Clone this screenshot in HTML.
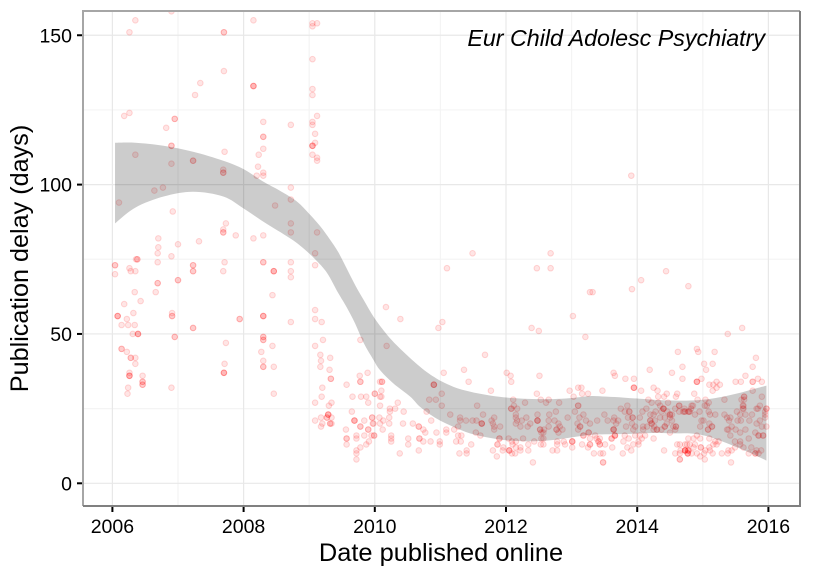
<!DOCTYPE html>
<html lang="en">
<head>
<meta charset="utf-8">
<title>Publication delay: Eur Child Adolesc Psychiatry</title>
<style>
html,body{margin:0;padding:0;background:#fff;width:825px;height:570px;overflow:hidden}
svg{display:block;font-family:"Liberation Sans",Arial,sans-serif}
</style>
</head>
<body>
<svg id="chart" xmlns="http://www.w3.org/2000/svg" width="825" height="570" viewBox="0 0 825 570">
  <defs><clipPath id="panel-clip"><rect x="83" y="11" width="717" height="495"/></clipPath></defs>
  <rect x="0" y="0" width="825" height="570" fill="#fff"/>
  <g id="grid"></g>
  <g id="points" clip-path="url(#panel-clip)"></g>
  <path id="ribbon" fill="#000" fill-opacity="0.2" clip-path="url(#panel-clip)"/>
  <path d="M83 506V11H800" fill="none" stroke="#a6a6a6" stroke-width="2"/>
  <path d="M83 506H800V11" fill="none" stroke="#808080" stroke-width="2"/>
  <g id="axes"></g>
  <text x="765" y="46" text-anchor="end" font-size="23.25" font-style="italic" fill="#000">Eur Child Adolesc Psychiatry</text>
  <text x="441" y="561" text-anchor="middle" font-size="25.4" fill="#000">Date published online</text>
  <text transform="translate(28,258.5) rotate(-90)" text-anchor="middle" font-size="25.2" fill="#000">Publication delay (days)</text>
</svg>
<script>
const xTickLabels = [2006, 2008, 2010, 2012, 2014, 2016];
const yTickLabels = [0, 50, 100, 150];
const xMinorTicks = [2007, 2009, 2011, 2013, 2015];
const yMinorTicks = [25, 75, 125];

const upperDates = [2006.04,2006.35,2006.78,2007.23,2007.69,2008.00,2008.30,2008.55,2008.81,2009.01,2009.17,2009.32,2009.44,2009.57,2009.70,2009.83,2009.98,2010.13,2010.33,2010.69,2010.94,2011.20,2011.45,2011.70,2011.96,2012.21,2012.47,2012.72,2012.98,2013.28,2013.53,2013.79,2014.04,2014.30,2014.55,2014.80,2015.06,2015.31,2015.57,2015.82,2015.97];
const upperValues = [114,114,113,111,108,105.2,101,98,94.4,90,86,81.5,77.5,72,66.4,61.4,55.8,51.3,46.3,39,35.1,32.3,30.7,29.6,28.8,28.4,28.2,28.2,28.5,29.2,29,28.7,28.3,27.9,27.7,27.7,28.1,29,30.3,31.8,32.7];
const lowerDates = [2006.04,2006.35,2006.78,2007.23,2007.69,2008.00,2008.30,2008.71,2008.91,2009.09,2009.27,2009.44,2009.57,2009.70,2009.83,2009.98,2010.08,2010.28,2010.54,2010.69,2010.94,2011.20,2011.45,2011.70,2011.96,2012.21,2012.47,2012.72,2012.98,2013.28,2013.53,2013.79,2014.04,2014.30,2014.55,2014.80,2015.06,2015.31,2015.57,2015.82,2015.97];
const lowerValues = [87,92.3,96,97.6,96,92,87.6,82,78.7,75,70.5,63.8,59,53.5,47,41.3,37.9,33.5,29,25.6,21.7,18.9,16.7,15.4,14.5,14.1,14.1,14.5,15.3,16.2,16.4,16.5,16.7,16.9,16.7,16.7,15.8,13.9,11.6,9.2,7.6];

const publishedDates = [
2006.35,2006.90,2006.26,2007.70,2007.70,2008.15,2009.05,2009.05,2009.12,2009.05,
2007.70,2007.34,2008.15,2008.15,2008.15,2007.26,2009.05,2009.05,2006.18,2006.26,
2006.95,2006.95,2006.82,2008.30,2008.72,2008.30,2008.30,2008.30,2008.23,2009.05,
2009.05,2009.12,2009.09,2009.05,2009.05,2009.05,2009.09,2009.05,2009.12,2009.12,
2006.90,2006.90,2006.90,2006.35,2007.23,2007.23,2007.71,2007.69,2007.69,2007.69,
2008.22,2008.30,2008.30,2008.20,2008.72,2008.72,2008.48,2008.72,2008.72,2009.12,
2006.77,2006.64,2006.10,2006.92,2007.73,2007.69,2007.69,2007.69,2007.88,2008.15,
2008.30,2006.70,2007.00,2007.32,2006.70,2006.04,2006.04,2006.04,2006.26,2006.28,
2006.35,2006.36,2006.38,2006.38,2006.69,2006.69,2006.90,2007.23,2007.23,2007.23,
2007.23,2007.71,2007.69,2008.30,2008.30,2008.46,2008.46,2008.46,2008.72,2008.72,
2008.72,2009.09,2009.09,2006.69,2006.69,2007.00,2007.00,2006.66,2006.34,2006.43,
2006.18,2006.32,2006.08,2006.08,2006.08,2006.22,2006.14,2006.24,2006.34,2006.91,
2006.91,2006.91,2007.23,2007.23,2007.94,2007.94,2008.30,2008.30,2008.30,2008.44,
2008.72,2009.09,2009.09,2009.19,2006.31,2006.39,2006.39,2006.39,2006.95,2006.95,
2007.73,2008.30,2008.30,2008.30,2008.30,2008.44,2008.27,2008.30,2008.30,2008.30,
2008.46,2007.71,2007.70,2007.70,2007.70,2006.14,2006.14,2006.22,2006.28,2006.28,
2006.35,2006.35,2006.26,2006.26,2006.26,2006.26,2006.46,2006.46,2006.46,2006.46,
2006.46,2006.24,2006.23,2006.90,2008.46,2009.21,2009.09,2009.17,2009.18,2009.17,
2009.32,2009.31,2009.33,2009.33,2009.20,2009.19,2009.09,2009.34,2009.30,2009.29,
2009.29,2009.29,2009.27,2009.27,2009.34,2009.18,2009.09,2009.20,2009.32,2009.32,
2009.34,2009.18,2009.78,2009.89,2009.77,2009.78,2009.78,2009.57,2009.66,2009.79,
2009.87,2010.00,2009.90,2010.08,2010.08,2009.65,2009.69,2009.69,2009.69,2009.84,
2009.96,2009.97,2009.78,2009.78,2009.90,2009.90,2009.56,2009.57,2009.57,2009.72,
2009.72,2009.84,2009.95,2009.99,2009.91,2009.87,2009.78,2009.57,2009.72,2009.72,
2009.72,2010.17,2010.39,2011.03,2010.97,2011.10,2011.49,2012.47,2012.68,2012.68,
2012.39,2012.50,2013.02,2013.21,2013.28,2010.18,2011.68,2011.05,2011.36,2011.43,
2012.01,2012.07,2012.08,2012.51,2010.90,2010.90,2010.90,2010.11,2010.11,2010.10,
2010.00,2010.10,2011.77,2012.97,2013.10,2013.15,2013.03,2013.16,2013.25,2011.02,
2010.83,2010.93,2011.02,2010.35,2010.08,2010.23,2010.23,2010.31,2010.44,2010.22,
2009.96,2010.07,2010.13,2010.08,2009.98,2010.22,2010.43,2010.58,2010.67,2010.67,
2010.12,2010.74,2010.77,2010.94,2010.86,2010.79,2011.15,2011.56,2011.65,2011.30,
2011.30,2011.39,2011.49,2011.55,2011.63,2011.63,2011.63,2011.27,2011.09,2011.09,
2011.21,2011.27,2011.32,2011.54,2011.61,2011.78,2011.82,2011.80,2011.82,2011.82,
2011.91,2010.25,2010.25,2010.25,2009.99,2010.51,2010.51,2010.68,2010.68,2010.74,
2010.85,2010.99,2010.99,2011.24,2011.31,2011.47,2010.67,2010.38,2011.29,2011.40,
2011.40,2011.90,2011.90,2011.87,2011.87,2011.80,2011.86,2011.95,2011.96,2012.05,
2012.05,2012.05,2012.09,2012.14,2012.04,2012.09,2012.15,2012.10,2012.15,2012.22,
2012.22,2012.26,2012.34,2012.34,2012.43,2012.41,2012.53,2012.57,2012.54,2012.57,
2012.54,2012.57,2012.52,2012.52,2012.58,2012.11,2012.08,2012.08,2012.12,2012.17,
2012.15,2012.15,2012.17,2012.15,2012.24,2012.31,2012.22,2012.33,2012.37,2012.29,
2012.47,2012.53,2012.61,2012.65,2012.81,2012.48,2012.48,2012.48,2012.48,2012.66,
2012.76,2012.65,2012.74,2012.80,2012.82,2012.65,2012.86,2012.77,2012.77,2012.80,
2012.88,2012.78,2012.78,2012.71,2012.78,2012.90,2013.01,2013.01,2013.01,2013.01,
2013.16,2013.25,2013.10,2013.10,2013.09,2013.13,2013.13,2013.10,2013.18,2013.18,
2013.26,2013.26,2013.32,2013.92,2014.06,2014.44,2014.78,2015.38,2015.60,2014.62,
2014.91,2014.93,2015.18,2015.81,2015.76,2015.02,2015.15,2015.05,2014.69,2014.19,
2014.53,2013.64,2013.66,2013.82,2013.95,2014.69,2014.98,2014.91,2014.91,2014.91,
2015.21,2015.16,2015.26,2015.10,2015.21,2015.15,2015.50,2015.58,2015.65,2015.76,
2015.76,2015.84,2015.90,2013.95,2013.95,2013.95,2013.47,2014.06,2014.25,2014.31,
2014.32,2014.41,2014.45,2014.61,2014.59,2014.87,2014.17,2014.22,2014.47,2014.64,
2014.64,2014.92,2015.04,2015.09,2015.03,2014.85,2014.82,2014.78,2014.72,2015.33,
2015.76,2015.63,2015.63,2015.61,2015.61,2015.90,2015.87,2015.84,2015.97,2015.95,
2013.75,2013.81,2013.88,2013.88,2014.08,2014.40,2014.40,2014.40,2014.37,2014.20,
2014.50,2014.50,2014.53,2014.25,2013.65,2013.71,2013.39,2013.50,2013.55,2013.93,
2013.93,2013.86,2014.04,2014.20,2014.20,2014.27,2014.35,2014.42,2014.50,2014.53,
2013.28,2013.64,2013.68,2013.83,2013.92,2013.97,2014.09,2014.15,2014.22,2014.22,
2014.26,2014.30,2014.30,2014.42,2014.42,2014.55,2014.59,2014.59,2014.70,2014.80,
2013.64,2013.64,2013.64,2013.94,2014.09,2014.25,2014.37,2014.50,2014.58,2014.45,
2013.36,2013.66,2013.66,2013.66,2013.61,2013.61,2013.43,2013.38,2013.28,2013.97,
2014.04,2014.12,2013.81,2014.25,2013.87,2013.28,2013.28,2013.41,2013.41,2013.43,
2013.43,2013.51,2013.79,2014.02,2013.94,2014.07,2014.02,2013.34,2013.48,2013.44,
2013.62,2013.78,2013.85,2013.91,2014.41,2014.61,2014.65,2014.66,2014.73,2014.78,
2014.78,2014.78,2014.65,2014.65,2013.48,2013.48,2014.65,2014.58,2014.76,2014.80,
2014.79,2014.73,2014.83,2015.06,2015.09,2015.11,2015.19,2014.88,2015.52,2015.57,
2015.62,2015.62,2015.63,2015.59,2015.82,2015.97,2015.65,2015.75,2015.71,2015.33,
2015.37,2015.42,2015.40,2015.53,2015.58,2015.82,2015.87,2015.95,2015.95,2015.97,
2015.90,2014.98,2015.01,2015.14,2015.14,2015.10,2015.08,2015.08,2014.96,2015.39,
2015.44,2015.37,2015.50,2015.57,2015.42,2015.65,2015.80,2015.85,2015.85,2015.92,
2015.92,2015.70,2014.91,2014.86,2014.78,2014.96,2015.19,2015.24,2015.10,2015.49,
2015.57,2015.57,2015.62,2015.49,2015.44,2015.39,2015.38,2015.74,2015.80,2015.80,
2015.85,2015.89,2015.70,2015.82,2014.73,2014.73,2014.73,2014.77,2014.77,2014.77,
2014.86,2014.88,2014.97,2014.97,2015.10,2015.11,2015.16,2015.21,2014.83,2014.96,
2015.03,2015.02,2015.15,2015.29,2015.04,2015.43,2014.91,2014.73,2013.91,2014.32,
2013.85,2014.14,2014.28,2014.46,2014.35,2014.58,2014.64,2014.72,2014.95,2013.05,
2013.12,2013.18,2013.22,2012.94
];
const delayDays = [
155,158,151,151,151,155,154,153,154,142,
138,134,133,133,133,130,132,130,123,124,
122,122,119,121,120,116,116,112,110,121,
120,123,117,113,113,113,114,110,109,108,
113,113,107,110,108,108,111,105,104,104,
106,104,103,103,99,95,93,87,84,84,
99,98,94,91,87,85,84,84,83,82,
83,82,80,81,79,73,73,70,72,71,
71,75,75,75,77,74,76,73,73,71,
71,74,71,74,74,71,71,71,74,71,
69,77,73,67,67,68,68,64,64,61,
60,57,56,56,56,55,53,53,53,57,
56,56,52,52,55,55,56,56,56,63,
54,58,55,54,50,50,50,50,49,49,
47,49,49,48,48,46,44,41,39,39,
39,40,37,37,37,45,45,44,42,42,
42,40,37,36,36,36,36,34,34,33,
33,32,30,32,30,48,46,43,41,39,
42,38,35,35,32,29,27,27,26,23,
23,23,22,22,22,22,21,20,20,20,
20,19,48,37,36,34,34,33,29,29,
29,30,27,34,29,24,21,21,21,21,
22,20,19,19,18,18,18,15,15,15,
16,16,16,16,14,13,12,13,11,10,
8,59,55,54,52,72,77,72,72,77,
52,51,56,49,64,46,43,37,38,34,
37,36,34,36,33,33,33,34,34,31,
30,29,31,31,32,32,29,30,30,30,
28,28,26,27,26,25,24,25,24,22,
22,22,21,20,20,20,20,20,19,19,
18,18,17,17,21,24,23,26,23,22,
21,21,21,21,20,20,20,19,18,17,
18,16,16,17,16,21,22,20,19,18,
19,16,15,14,16,15,13,15,15,14,
14,14,13,14,14,13,11,10,10,11,
10,15,15,13,13,11,9,11,12,11,
11,11,10,10,15,14,14,13,12,12,
11,15,13,11,14,7,13,13,15,15,
17,17,18,18,18,28,25,25,26,25,
23,22,21,20,21,22,19,19,20,27,
30,28,27,28,27,23,21,21,21,23,
24,21,21,20,19,19,18,18,18,17,
14,14,13,11,11,13,14,14,14,12,
13,12,26,26,20,19,19,18,16,16,
17,17,64,65,68,71,66,50,52,44,
45,44,44,42,39,40,40,38,39,38,
37,37,36,35,35,35,35,34,34,34,
34,33,33,33,32,31,34,34,36,34,
34,35,34,32,32,32,31,31,32,31,
29,29,30,30,29,30,28,27,27,26,
26,28,28,27,26,26,25,24,24,28,
31,29,28,26,25,29,26,25,25,24,
25,24,24,24,24,25,25,25,24,23,
23,23,23,23,22,21,21,23,21,22,
22,22,22,21,21,21,22,22,22,21,
20,21,20,19,20,19,19,19,20,20,
19,18,18,19,19,19,19,19,24,24,
18,18,18,18,18,18,18,17,18,20,
16,16,16,16,15,15,15,15,15,16,
16,16,16,15,15,13,13,14,14,13,
13,13,14,14,13,15,13,10,10,10,
12,10,12,11,11,13,13,11,11,11,
11,11,8,8,7,7,10,10,13,13,
24,24,26,26,24,23,23,23,24,23,
25,26,29,28,25,25,23,23,21,23,
22,22,21,21,21,20,21,22,23,19,
19,21,21,19,19,20,18,18,19,18,
19,18,18,17,16,18,17,16,16,16,
16,15,16,15,15,15,14,14,15,14,
14,13,12,12,11,11,10,12,10,10,
10,11,10,11,11,11,11,10,10,10,
12,13,12,12,12,11,13,13,10,9,
8,10,10,10,11,7,10,13,103,27,
26,25,24,24,26,25,24,25,24,24,
22,23,21,22
];

const NS = 'http://www.w3.org/2000/svg';
function xScale(year){ return 112.4 + (year - 2006) * 65.6; }
function yScale(days){ return 483.3 - days * 2.987; }
function makeEl(tag, attrs, parent){
  const el = document.createElementNS(NS, tag);
  for (const k in attrs) el.setAttribute(k, attrs[k]);
  parent.appendChild(el);
  return el;
}
const gridGroup = document.getElementById('grid');
const axesGroup = document.getElementById('axes');
const pointsGroup = document.getElementById('points');

xMinorTicks.forEach(function(v){
  const el = makeEl('line', {x1:xScale(v), x2:xScale(v), y1:11, y2:506, stroke:'#f4f4f4', 'stroke-width':1.2}, gridGroup);
  
  
});
yMinorTicks.forEach(function(v){
  const el = makeEl('line', {x1:83, x2:800, y1:yScale(v), y2:yScale(v), stroke:'#f4f4f4', 'stroke-width':1.2}, gridGroup);
  
  
});
xTickLabels.forEach(function(v){
  const x = xScale(v);
  const grid = makeEl('line', {x1:x, x2:x, y1:11, y2:506, stroke:'#e8e8e8', 'stroke-width':1.2}, gridGroup);
  
  
  const tick = makeEl('line', {x1:x, x2:x, y1:507, y2:512, stroke:'#000', 'stroke-width':2}, axesGroup);
  
  
  const label = makeEl('text', {x:x, y:533, 'text-anchor':'middle', 'font-size':19.5, fill:'#000'}, axesGroup);
  label.textContent = v;
  
  
});
yTickLabels.forEach(function(v){
  const y = yScale(v);
  const grid = makeEl('line', {x1:83, x2:800, y1:y, y2:y, stroke:'#e8e8e8', 'stroke-width':1.2}, gridGroup);
  
  
  const tick = makeEl('line', {x1:77, x2:82, y1:y, y2:y, stroke:'#000', 'stroke-width':2}, axesGroup);
  
  
  const label = makeEl('text', {x:72, y:y + 7, 'text-anchor':'end', 'font-size':19.5, fill:'#000'}, axesGroup);
  label.textContent = v;
  
  
});

publishedDates.forEach(function(date, i){
  if (delayDays[i] === undefined) return;
  const pt = makeEl('circle', {cx:xScale(date), cy:yScale(delayDays[i]), r:2.8, fill:'#ff0000', 'fill-opacity':0.1, stroke:'#ff0000', 'stroke-opacity':0.15, 'stroke-width':1}, pointsGroup);
  
  
});

function splineSegments(pts){
  let d = '';
  for (let i = 0; i < pts.length - 1; i++){
    const p0 = pts[Math.max(i - 1, 0)], p1 = pts[i], p2 = pts[i + 1], p3 = pts[Math.min(i + 2, pts.length - 1)];
    const c1x = p1[0] + (p2[0] - p0[0]) / 6, c1y = p1[1] + (p2[1] - p0[1]) / 6;
    const c2x = p2[0] - (p3[0] - p1[0]) / 6, c2y = p2[1] - (p3[1] - p1[1]) / 6;
    d += 'C' + c1x.toFixed(2) + ' ' + c1y.toFixed(2) + ' ' + c2x.toFixed(2) + ' ' + c2y.toFixed(2) + ' ' + p2[0].toFixed(2) + ' ' + p2[1].toFixed(2);
  }
  return d;
}
const upperPts = upperDates.map(function(d, i){ return [xScale(d), yScale(upperValues[i])]; });
const lowerPts = lowerDates.map(function(d, i){ return [xScale(d), yScale(lowerValues[i])]; }).reverse();
document.getElementById('ribbon').setAttribute('d',
  'M' + upperPts[0][0] + ' ' + upperPts[0][1] + splineSegments(upperPts) +
  'L' + lowerPts[0][0] + ' ' + lowerPts[0][1] + splineSegments(lowerPts) + 'Z');
</script>
</body>
</html>
